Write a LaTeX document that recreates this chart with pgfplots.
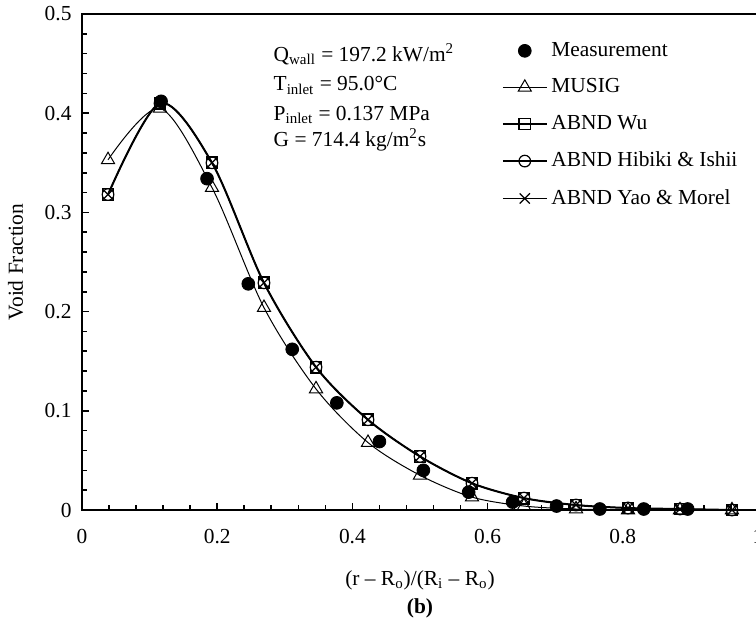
\documentclass[border=0pt]{standalone}
\usepackage{fontspec}
\setmainfont{Liberation Serif}
\usepackage{pgfplots}
\pgfplotsset{compat=1.18}
\pgfplotsset{
  mylegline/.style={legend image code/.code={\draw[mark repeat=2,mark phase=2,##1,line width=0.6pt] plot coordinates {(0pt,0pt)(11pt,0pt)(22pt,0pt)};}},
  mylegmark/.style={legend image code/.code={\draw[##1] plot coordinates {(11pt,0pt)};}},
}
\begin{document}
\begin{tikzpicture}
\fontsize{10.7}{12.8}\selectfont
\begin{axis}[
  scale only axis, width=338pt, height=248pt,
  at={(0pt,0pt)}, anchor=south west,
  xmin=0, xmax=1, ymin=0, ymax=0.5,
  xtick={0,0.2,0.4,0.6,0.8,1}, ytick={0,0.1,0.2,0.3,0.4,0.5},
  minor x tick num=4, minor y tick num=4,
  xtick pos=left, ytick pos=left,
  tick align=inside,
  major tick length=3.5pt, minor tick length=2.5pt,
  every tick/.style={black, line width=0.8pt},
  axis line style={line width=1pt},
  /pgf/number format/assume math mode=true,
  ticklabel style={font=\fontsize{10.7}{12.8}\selectfont},
  xticklabel style={anchor=base, yshift=-16.5pt},
  yticklabel style={anchor=east, xshift=-1.5pt},
  legend style={draw=none, fill=none, at={(axis cs:0.621,0.476)}, anchor=north west,
    font=\fontsize{10.7}{12.8}\selectfont, row sep=5.65pt, inner sep=0pt,
    nodes={inner sep=2pt}},
  legend cell align=left,
  clip=false,
]
\addplot[only marks, mark=*, mark size=3.2pt, black, mylegmark] coordinates {
(0.117,0.412) (0.185,0.334) (0.246,0.228) (0.311,0.162) (0.377,0.108) (0.440,0.069)
(0.505,0.040) (0.572,0.018) (0.637,0.008) (0.702,0.004) (0.766,0.001) (0.831,0.001) (0.896,0.001)};
\addlegendentry{Measurement}
\addplot[smooth, black, line width=0.5pt, mark=triangle, mark size=3.8pt, mark options={fill=white, solid, line width=0.5pt}, mylegline] coordinates {
(0.0385,0.353) (0.1154,0.405) (0.1923,0.325) (0.2692,0.204) (0.3462,0.122) (0.4231,0.068)
(0.5,0.035) (0.5769,0.013) (0.6538,0.004) (0.7308,0.001) (0.8077,0.0) (0.8846,0.0) (0.9615,0.0)};
\addlegendentry{MUSIG}
\addplot[smooth, black, line width=1pt, mark=square, mark size=2.9pt, mark options={solid, line width=0.6pt}, mylegline] coordinates {
(0.0385,0.318) (0.1154,0.410) (0.1923,0.350) (0.2692,0.229) (0.3462,0.144) (0.4231,0.091)
(0.5,0.054) (0.5769,0.027) (0.6538,0.012) (0.7308,0.005) (0.8077,0.002) (0.8846,0.001) (0.9615,0.0)};
\addlegendentry{ABND Wu}
\addplot[smooth, black, line width=0.5pt, mark=o, mark size=2.9pt, mark options={solid, line width=0.6pt}, mylegline] coordinates {
(0.0385,0.318) (0.1154,0.410) (0.1923,0.350) (0.2692,0.229) (0.3462,0.144) (0.4231,0.091)
(0.5,0.054) (0.5769,0.027) (0.6538,0.012) (0.7308,0.005) (0.8077,0.002) (0.8846,0.001) (0.9615,0.0)};
\addlegendentry{ABND Hibiki \& Ishii}
\addplot[smooth, black, line width=0.5pt, mark=x, mark size=3.6pt, mark options={solid, line width=0.6pt}, mylegline] coordinates {
(0.0385,0.318) (0.1154,0.410) (0.1923,0.350) (0.2692,0.229) (0.3462,0.144) (0.4231,0.091)
(0.5,0.054) (0.5769,0.027) (0.6538,0.012) (0.7308,0.005) (0.8077,0.002) (0.8846,0.001) (0.9615,0.0)};
\addlegendentry{ABND Yao \& Morel}
\node[anchor=base west, inner sep=0pt] at (axis cs:0.283,0.4525) {Q\textsubscript{wall} = 197.2 kW/m\textsuperscript{2}};
\node[anchor=base west, inner sep=0pt] at (axis cs:0.283,0.4225) {T\textsubscript{inlet} = 95.0°C};
\node[anchor=base west, inner sep=0pt] at (axis cs:0.283,0.3925) {P\textsubscript{inlet} = 0.137 MPa};
\node[anchor=base west, inner sep=0pt] at (axis cs:0.283,0.3665) {G = 714.4 kg/m\textsuperscript{2}s};
\node[anchor=base, inner sep=0pt] at ([yshift=-37.5pt]rel axis cs:0.5,0) {(r – R\textsubscript{o})/(R\textsubscript{i} – R\textsubscript{o})};
\node[anchor=base, inner sep=0pt] at ([yshift=-51.5pt]rel axis cs:0.5,0) {\textbf{(b)}};
\node[rotate=90, inner sep=0pt] at ([xshift=-33.25pt]rel axis cs:0,0.5) {Void Fraction};
\end{axis}
\pgfresetboundingbox
\path[use as bounding box] (-41pt,-54pt) rectangle (337pt,255pt);
\end{tikzpicture}
\end{document}
